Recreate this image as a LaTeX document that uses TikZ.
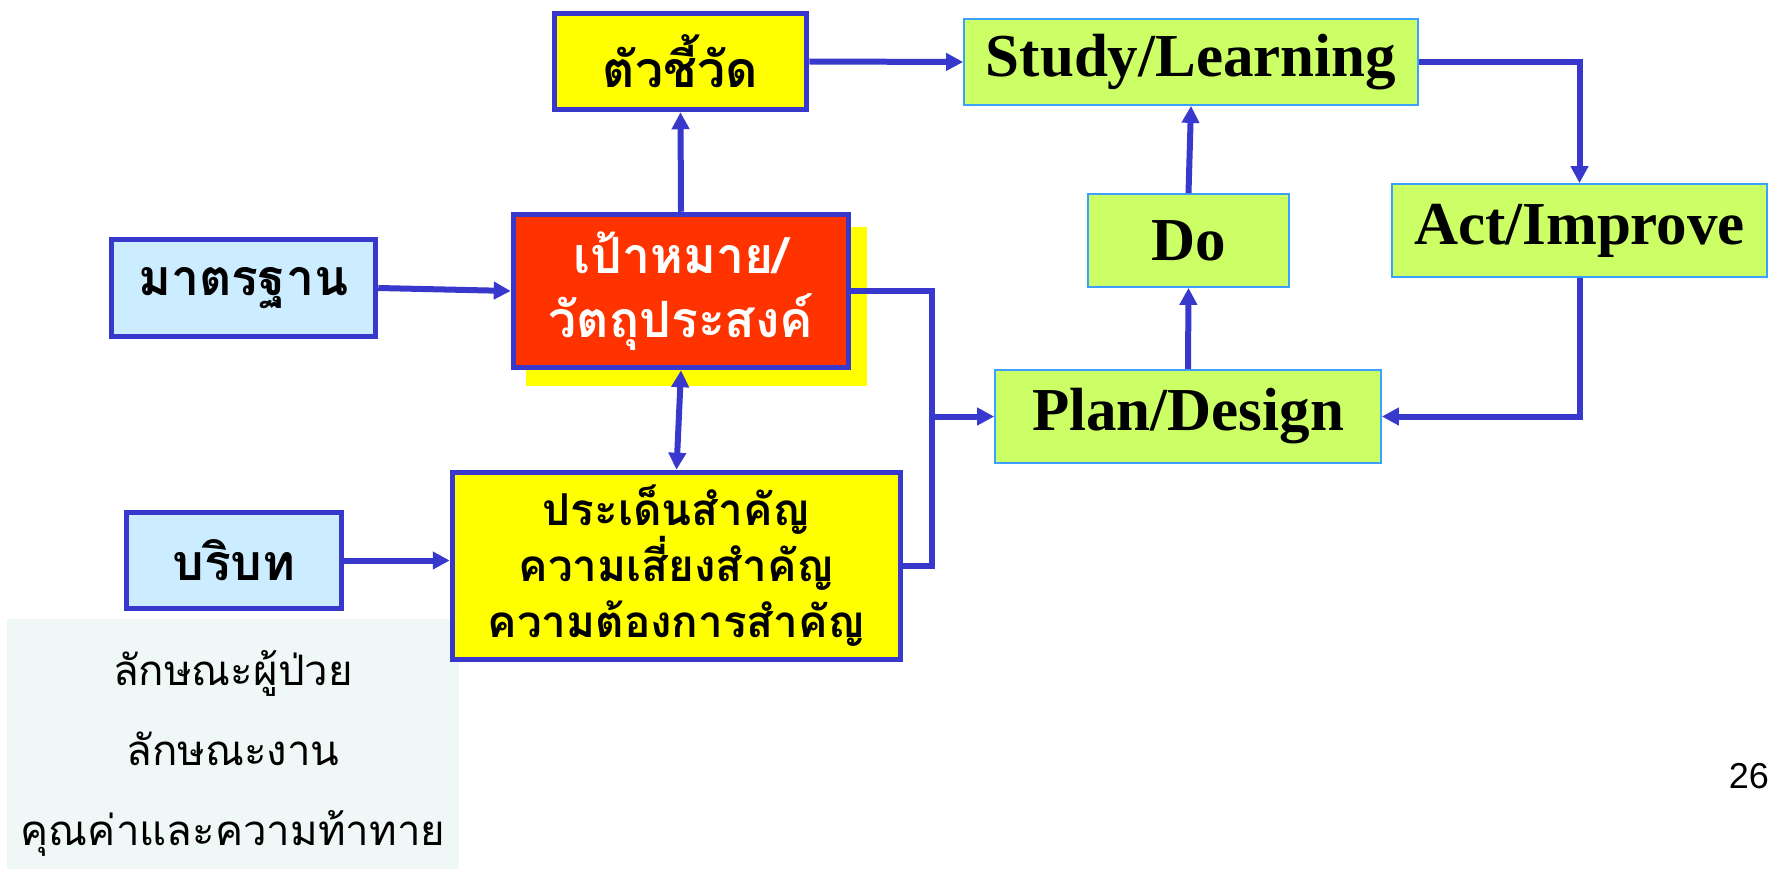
\documentclass[tikz,border=0pt]{standalone}
\usepackage{fontspec}
\setmainfont{Liberation Serif}
\newfontfamily\thaifont[Script=Thai]{Loma}
\newfontfamily\numfont{Liberation Sans}
\usetikzlibrary{arrows.meta}

\definecolor{linkblue}{RGB}{56,56,204}
\definecolor{goalred}{RGB}{255,51,0}
\definecolor{skyfill}{RGB}{204,236,255}
\definecolor{pdsagreen}{RGB}{204,255,102}
\definecolor{pdsaedge}{RGB}{60,160,255}
\definecolor{notefill}{RGB}{239,247,247}
\definecolor{boxyellow}{RGB}{255,255,0}

\begin{document}
\begin{tikzpicture}[x=1pt,y=-1pt,
  box/.style={rectangle, inner sep=0pt, draw=linkblue, line width=5.5pt, align=center, text=black},
  thaibig/.style={font=\thaifont\bfseries\fontsize{50}{64}\selectfont},
  thaimid/.style={font=\thaifont\bfseries\fontsize{44}{56}\selectfont},
  pdsa/.style={rectangle, inner sep=0pt, draw=pdsaedge, line width=1.8pt, fill=pdsagreen,
    font=\bfseries\fontsize{61}{61}\selectfont},
  link/.style={draw=linkblue, line width=6pt},
  tip/.style={-{Triangle[width=17pt,length=17pt]}},
  tips/.style={{Triangle[width=17pt,length=17pt]}-{Triangle[width=17pt,length=17pt]}}]
\useasboundingbox (0,0) rectangle (1769,869);

% notes panel under the context box
\node[rectangle, inner sep=0pt, fill=notefill, minimum width=452pt, minimum height=250pt] (notes) at (233,744) {};
\node[align=center, inner sep=0pt, font=\thaifont\fontsize{42}{80}\selectfont] (notetext) at (233,753)
  {ลักษณะผู้ป่วย\\ลักษณะงาน\\คุณค่าและความท้าทาย};

% input side
\fill[boxyellow] (526,227) rectangle (867,386);
\node[box, fill=goalred, text=white, thaibig, minimum width=335pt, minimum height=153pt] (goal) at (681,291)
  {เป้าหมาย/\\วัตถุประสงค์};
\node[box, fill=boxyellow, thaibig, minimum width=252pt, minimum height=96pt] (kpi) at (680.5,61.5) {ตัวชี้วัด};
\node[box, fill=skyfill, thaibig, minimum width=264pt, minimum height=97pt] (std) at (243.5,288) {มาตรฐาน};
\node[box, fill=skyfill, thaibig, minimum width=215pt, minimum height=96pt] (ctx) at (234,560.5) {บริบท};
\node[box, fill=boxyellow, thaimid, minimum width=448pt, minimum height=187pt] (issues) at (676.5,566)
  {\raisebox{6pt}{\parbox{440pt}{\centering ประเด็นสำคัญ\\ความเสี่ยงสำคัญ\\ความต้องการสำคัญ}}};

% improvement cycle
\node[pdsa, minimum width=454pt, minimum height=86pt] (study) at (1191,62) {Study/Learning};
\node[pdsa, minimum width=201pt, minimum height=93pt] (do) at (1188.5,240.5) {Do};
\node[pdsa, minimum width=375pt, minimum height=93pt] (act) at (1579.5,230.5) {Act/Improve};
\node[pdsa, minimum width=386pt, minimum height=93pt] (plan) at (1188,416.5) {Plan/Design};

\node[anchor=east, inner sep=0pt, font=\numfont\fontsize{36}{36}\selectfont] (pageno) at (1769,776) {26};

% connectors
\coordinate (merge) at (932,416.5);
\draw[link, tip] (std.east) -- (goal.west);
\draw[link, tip] (ctx.east) -- (issues.west |- ctx.east);
\draw[link, tip] (goal.north) -- (kpi.south);
\draw[link, tips] (goal.south) -- (issues.north);
\draw[link, tip] (kpi.east) -- (study.west);
\draw[link, tip] (study.east) -| (act.north);
\draw[link, tip] (act.south) |- (plan.east);
\draw[link, tip] (plan.north) -- (do.south);
\draw[link, tip] (do.north) -- (study.south);
\draw[link] (issues.east) -| (merge);
\draw[link, tip] (goal.east) -| (merge) -- (plan.west);
\end{tikzpicture}
\end{document}
